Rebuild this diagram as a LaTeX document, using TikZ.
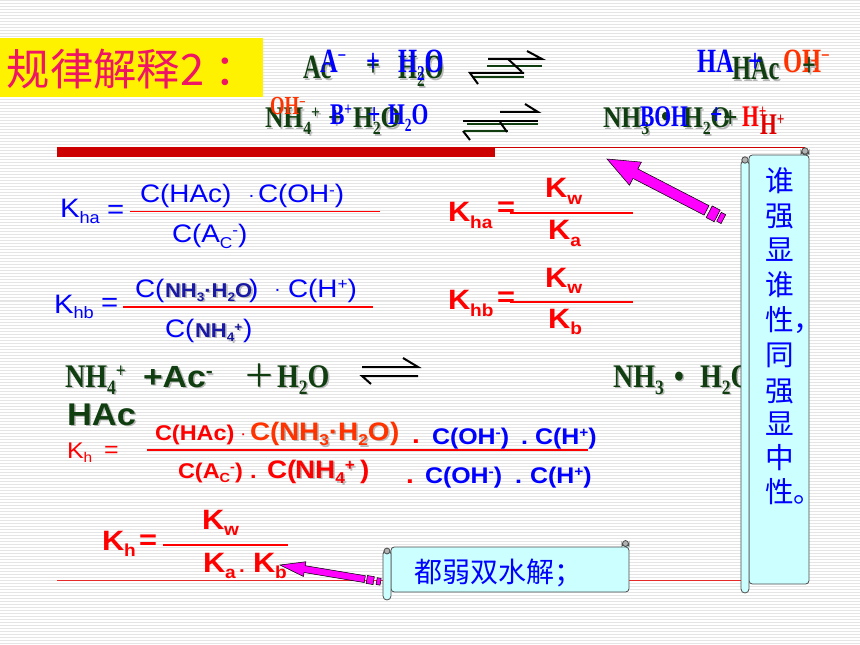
\documentclass[tikz,border=0pt]{standalone}
\usepackage{fontspec}
\usepackage{graphicx}
\setmainfont[FakeStretch=1.1]{Liberation Sans}
\newfontfamily\cjk{Noto Sans CJK SC}
\newfontfamily\srfN[FakeStretch=0.72]{Liberation Serif}
\newfontfamily\srfG[FakeStretch=0.85]{Liberation Serif}
\usetikzlibrary{calc}
\definecolor{dgreen}{RGB}{16,62,16}
\definecolor{tred}{RGB}{240,20,100}
\definecolor{ored}{RGB}{255,51,0}
\definecolor{scr}{RGB}{204,255,255}
\definecolor{barred}{RGB}{204,0,0}
\definecolor{lred}{RGB}{230,40,40}
\definecolor{mag}{RGB}{255,0,255}
\definecolor{dblue}{RGB}{25,25,165}
\newcommand\fsz[1]{\fontsize{#1}{#1}\selectfont}
\newcommand\mysb[1]{\raisebox{-0.22em}{\scalebox{0.62}{#1}}}
\newcommand\mysp[1]{\raisebox{0.3em}{\scalebox{0.62}{#1}}}
\tikzset{txt/.style={inner sep=0pt, outer sep=0pt, anchor=base west},
  scrl/.style={fill=scr, draw=black!70, line width=0.6pt},
  curl/.style={fill=black!30, draw=black!70, line width=0.6pt},
  harp/.style={line width=1.5pt},
  fracline/.style={red, line width=1.2pt},
  marr/.style={fill=mag, draw=black, line width=0.4pt}}
\newcommand\tx[6]{\node[txt,font=#4,text=#5] (#1) at (#2,#3) {#6};}
\newcommand\sh[6]{\node[txt,font=#4,text=black!28] (#1s) at (#2+1.6,#3+1.6) {#6};\node[txt,font=#4,text=#5] (#1) at (#2,#3) {#6};}
\newcommand\fA{\srfN\bfseries\fsz{25.5}}
\newcommand\fGa{\srfN\bfseries\fsz{25.5}}
\newcommand\fB{\srfN\bfseries\fsz{22.5}}
\newcommand\fG{\srfG\bfseries\fsz{22.5}}
\newcommand\fR{\srfG\bfseries\fsz{24.75}}
% segment of an arrow: from coord #1 to coord #2, half width #4, direction coord #3
\newcommand\seg[4]{($(#1)!#4!90:(#3)$) -- ($(#1)!#4!-90:(#3)$) -- ($(#2)!#4!-90:(#3)$) -- ($(#2)!#4!90:(#3)$) -- cycle}
\begin{document}
\begin{tikzpicture}[x=0.75pt,y=-0.75pt]
\useasboundingbox (0,0) rectangle (860,645);
\fill[white] (0,0) rectangle (860,645);
\foreach \yy in {1,4,...,644} \draw[black!10, line width=0.75pt] (0,\yy) -- (860,\yy);

% title
\fill[yellow] (0,38) rectangle (263,97);
\tx{title}{7}{86}{\cjk\fsz{32.5}}{tred}{规律解释2}
\tx{titlec}{214}{86}{\cjk\fsz{32.5}}{tred}{：}

% red rules
\draw[barred, line width=0.75pt] (57,147.5) -- (805,147.5);
\fill[barred] (57,147) rectangle (495,157);
\draw[lred, line width=0.75pt] (57,580) -- (742,580);

% ---- row 1 ----
\sh{gA}{303}{79}{\fGa}{dgreen}{Ac}
\sh{gB}{366}{77}{\fGa}{dgreen}{+}
\sh{gC}{398}{79}{\fGa}{dgreen}{H\mysb{2}O}
\sh{gD}{732}{80}{\fGa}{dgreen}{HAc}
\tx{bA}{320}{73}{\fA}{blue}{A\mysp{−}}
\tx{bB}{366}{73}{\fA}{blue}{+}
\tx{bC}{398}{73}{\fA}{blue}{H\mysb{2}O}
\tx{bD}{697}{73}{\fA}{blue}{HA}
\tx{bE}{748}{73}{\fA}{blue}{+}
\tx{oA}{783}{73}{\fA}{ored}{OH\mysp{−}}
\sh{gE}{802}{77}{\fGa}{dgreen}{+}
% harpoons row 1
\draw[harp, dgreen] (487,66) -- (542,66) (472,77) -- (524,77);
\draw[harp, black] (488,59) -- (542,59) -- (527,51);
\draw[harp, black] (508,59) -- (522,72);
\draw[harp, black] (478,84) -- (470,73) -- (524,73);

% ---- row 2 ----
\sh{gF}{265}{128}{\fG}{dgreen}{NH\mysb{4}\mysp{+}}
\sh{gG}{328}{128}{\fG}{dgreen}{+}
\sh{gH}{353}{128}{\fG}{dgreen}{H\mysb{2}O}
\sh{gI}{603}{128}{\fG}{dgreen}{NH\mysb{3}}
\sh{gJ}{661}{127}{\fG}{dgreen}{•}
\sh{gK}{683}{128}{\fG}{dgreen}{H\mysb{2}O}
\sh{gL}{723}{128}{\fG}{dgreen}{+}
\tx{oB}{270}{115}{\srfN\bfseries\fsz{19.5}}{ored}{OH\mysp{−}}
\tx{bF}{330}{125}{\fB}{blue}{B\mysp{+}}
\tx{bG}{368}{125}{\fB}{blue}{+}
\tx{bH}{388}{125}{\fB}{blue}{H\mysb{2}O}
\tx{bI}{640}{127}{\fB}{blue}{BOH}
\tx{bJ}{710}{125}{\fB}{blue}{+}
\tx{rA}{742}{127}{\fB}{red}{H\mysp{+}}
\tx{rB}{760}{135}{\fB}{red!88!black}{H\mysp{+}}
% harpoons row 2
\draw[harp, dgreen] (467,124) -- (538,124) (464,131) -- (508,131);
\draw[harp, black] (500,112) -- (538,112) -- (525,104);
\draw[harp, black] (463,121) -- (538,121);
\draw[harp, black] (500,122) -- (507,132);
\draw[harp, black] (463,131) -- (470,140);

% ---- K_ha (blue) ----
\tx{kaK}{60}{218}{\fsz{20}}{blue}{K\mysb{ha}}
\tx{kaE}{107}{219}{\fsz{20}}{blue}{=}
\tx{kaN1}{140}{203}{\fsz{19}}{blue}{C(HAc)}
\tx{kaN2}{248}{202}{\fsz{14}}{blue}{·}
\tx{kaN3}{258}{203}{\fsz{19}}{blue}{C(OH\mysp{-})}
\draw[fracline] (130,211.7) -- (380,211.7);
\tx{kaD}{172}{243}{\fsz{19}}{blue}{C(A\mysb{C}\mysp{-})}

% ---- K_hb (blue) ----
\tx{kbK}{54}{313}{\fsz{20}}{blue}{K\mysb{hb}}
\tx{kbE}{101}{311}{\fsz{20}}{blue}{=}
\tx{kbN1}{135}{297}{\fsz{19}}{blue}{C(}
\sh{kbN2}{165}{297}{\bfseries\fsz{15}}{dblue}{NH\mysb{3}·H\mysb{2}O}
\tx{kbN3}{249}{297}{\fsz{19}}{blue}{)}
\tx{kbN4}{274}{296}{\fsz{14}}{blue}{·}
\tx{kbN5}{288}{297}{\fsz{19}}{blue}{C(H\mysp{+})}
\draw[fracline] (123,307) -- (373,307);
\tx{kbD1}{165}{337}{\fsz{19}}{blue}{C(}
\sh{kbD2}{195}{337}{\bfseries\fsz{15}}{dblue}{NH\mysb{4}\mysp{+}}
\tx{kbD3}{243}{337}{\fsz{19}}{blue}{)}

% ---- right red formulas ----
\tx{raK}{448}{222}{\bfseries\fsz{21}}{red}{K\mysb{ha}}
\tx{raE}{497}{217}{\bfseries\fsz{21}}{red}{=}
\draw[red, line width=1.5pt] (510,213) -- (633,213);
\tx{raN}{545}{198}{\bfseries\fsz{21}}{red}{K\mysb{w}}
\tx{raD}{548}{240}{\bfseries\fsz{21}}{red}{K\mysb{a}}
\tx{rbK}{448}{310}{\bfseries\fsz{21}}{red}{K\mysb{hb}}
\tx{rbE}{497}{306}{\bfseries\fsz{21}}{red}{=}
\draw[red, line width=1.5pt] (510,302) -- (633,302);
\tx{rbN}{545}{287}{\bfseries\fsz{21}}{red}{K\mysb{w}}
\tx{rbD}{548}{328}{\bfseries\fsz{21}}{red}{K\mysb{b}}

% ---- row 3 ----
\sh{g3A}{65}{387}{\fR}{dgreen}{NH\mysb{4}\mysp{+}}
\sh{g3B}{143}{387}{\bfseries\fsz{23}}{dgreen}{+Ac\mysp{-}}
\sh{g3C}{243}{387}{\cjk\fsz{24}}{dgreen}{＋}
\sh{g3D}{277}{387}{\fR}{dgreen}{H\mysb{2}O}
\sh{g3E}{613}{387}{\fR}{dgreen}{NH\mysb{3}}
\sh{g3F}{674}{387}{\fR}{dgreen}{•}
\sh{g3G}{700}{387}{\fR}{dgreen}{H\mysb{2}O}
\draw[harp, black] (403,358) -- (418,367) -- (362,367);
\draw[harp, black] (418,376) -- (362,376) -- (371,384);
\sh{g3H}{67}{425}{\bfseries\fsz{23.5}}{dgreen}{HAc}

% ---- K_h long ----
\tx{khK}{67}{458}{\fsz{17}}{red}{K\mysb{h}}
\tx{khE}{104}{457}{\fsz{17}}{red}{=}
\tx{khN1}{155}{440}{\bfseries\fsz{16}}{red}{C(HAc)}
\tx{khN2}{240}{439}{\fsz{13}}{red}{·}
\tx{khN3}{250}{440}{\bfseries\fsz{19}}{ored}{C(}
\sh{khN4}{279}{440}{\bfseries\fsz{19}}{ored}{NH\mysb{3}·H\mysb{2}O}
\tx{khN5}{390}{440}{\bfseries\fsz{19}}{ored}{)}
\tx{khN6}{412}{443}{\bfseries\fsz{19}}{red}{.}
\tx{khN7}{432}{444}{\bfseries\fsz{17}}{blue}{C(OH\mysp{-})}
\tx{khN8}{521}{444}{\bfseries\fsz{17}}{blue}{.}
\tx{khN9}{535}{444}{\bfseries\fsz{17}}{blue}{C(H\mysp{+})}
\draw[red, line width=1.5pt] (147,450) -- (588,450);
\tx{khD1}{178}{478}{\bfseries\fsz{16}}{red}{C(A\mysb{C}\mysp{-})}
\tx{khD2}{250}{478}{\bfseries\fsz{16}}{red}{.}
\tx{khD3}{267}{478}{\bfseries\fsz{19}}{red}{C(}
\sh{khD4}{295}{478}{\bfseries\fsz{19}}{red}{NH\mysb{4}\mysp{+}}
\tx{khD5}{360}{478}{\bfseries\fsz{19}}{red}{)}
\tx{khD6}{406}{483}{\bfseries\fsz{19}}{red}{.}
\tx{khD7}{425}{483}{\bfseries\fsz{17}}{blue}{C(OH\mysp{-})}
\tx{khD8}{515}{483}{\bfseries\fsz{17}}{blue}{.}
\tx{khD9}{530}{483}{\bfseries\fsz{17}}{blue}{C(H\mysp{+})}

% ---- K_h short ----
\tx{kcK}{102}{550}{\bfseries\fsz{21}}{red}{K\mysb{h}}
\tx{kcE}{139}{549}{\bfseries\fsz{21}}{red}{=}
\draw[red, line width=1.5pt] (163,545) -- (288,545);
\tx{kcN}{202}{529}{\bfseries\fsz{21}}{red}{K\mysb{w}}
\tx{kcD1}{203}{572}{\bfseries\fsz{21}}{red}{K\mysb{a}}
\tx{kcD2}{239}{572}{\bfseries\fsz{14}}{red}{.}
\tx{kcD3}{253}{572}{\bfseries\fsz{21}}{red}{K\mysb{b}}

% ---- magenta arrow 1 ----
\coordinate (a1t) at (607,159);
\coordinate (a1e) at (729,222);
\coordinate (a1h) at ($(a1t)!24pt!(a1e)$);
\coordinate (a1s) at ($(a1t)!84pt!(a1e)$);
\coordinate (a1p) at ($(a1t)!86.25pt!(a1e)$);
\coordinate (a1q) at ($(a1t)!93pt!(a1e)$);
\coordinate (a1r) at ($(a1t)!94.5pt!(a1e)$);
\coordinate (a1u) at ($(a1t)!98.25pt!(a1e)$);
\draw[marr] (a1t) -- ($(a1h)!9.75pt!90:(a1e)$) -- ($(a1h)!4pt!90:(a1e)$) -- ($(a1s)!4pt!90:(a1e)$) -- ($(a1s)!4pt!-90:(a1e)$) -- ($(a1h)!4pt!-90:(a1e)$) -- ($(a1h)!9.75pt!-90:(a1e)$) -- cycle;
\draw[marr] \seg{a1p}{a1q}{a1e}{4.9pt};
\draw[marr] \seg{a1r}{a1u}{a1e}{3.75pt};

% ---- magenta arrow 2 ----
\coordinate (a2t) at (280,565);
\coordinate (a2e) at (388,583);
\coordinate (a2h) at ($(a2t)!18.75pt!(a2e)$);
\coordinate (a2s) at ($(a2t)!64.5pt!(a2e)$);
\coordinate (a2p) at ($(a2t)!66pt!(a2e)$);
\coordinate (a2q) at ($(a2t)!71.25pt!(a2e)$);
\coordinate (a2r) at ($(a2t)!73.5pt!(a2e)$);
\coordinate (a2u) at ($(a2t)!76.5pt!(a2e)$);
\draw[marr] (a2t) -- ($(a2h)!5.6pt!90:(a2e)$) -- ($(a2h)!2.6pt!90:(a2e)$) -- ($(a2s)!2.6pt!90:(a2e)$) -- ($(a2s)!2.6pt!-90:(a2e)$) -- ($(a2h)!2.6pt!-90:(a2e)$) -- ($(a2h)!5.6pt!-90:(a2e)$) -- cycle;
\draw[marr] \seg{a2p}{a2q}{a2e}{3pt};
\draw[marr] \seg{a2r}{a2u}{a2e}{2.6pt};

% ---- vertical scroll ----
\draw[scrl, rounded corners=2.5pt] (749,155) -- (809,155) -- (809,584) -- (749,584) -- cycle;
\draw[scrl] (801,155) -- (801,151) arc (180:0:4) -- (809,155);
\draw[curl] (805,151) circle [radius=2.4pt];
\draw[scrl, rounded corners=3pt] (741,160) -- (741,593) -- (749,593) -- (749,160) -- cycle;
\draw[curl] (745,160) circle [radius=2.4pt];
\foreach \ch/\yc [count=\i] in {谁/181,强/216,显/250,谁/285,性，/320,同/355,强/391,显/424,中/458,性。/492}
  \node[txt, font=\cjk\fsz{21.5}, text=blue] (vs\i) at (765,\yc+10.8) {\ch};

% ---- horizontal scroll ----
\draw[scrl, rounded corners=2.5pt] (391,547) -- (629,547) -- (629,592) -- (391,592) -- cycle;
\draw[scrl] (622,547) -- (622,543) arc (180:0:3.5) -- (629,547);
\draw[curl] (625.5,543.5) circle [radius=2.2pt];
\draw[scrl, rounded corners=3pt] (383,550) -- (383,600) -- (391,600) -- (391,550) -- cycle;
\draw[curl] (387,551) circle [radius=2.2pt];
\tx{hs}{414}{582}{\cjk\fsz{21}}{blue}{都弱双水解；}
\end{tikzpicture}
\end{document}
